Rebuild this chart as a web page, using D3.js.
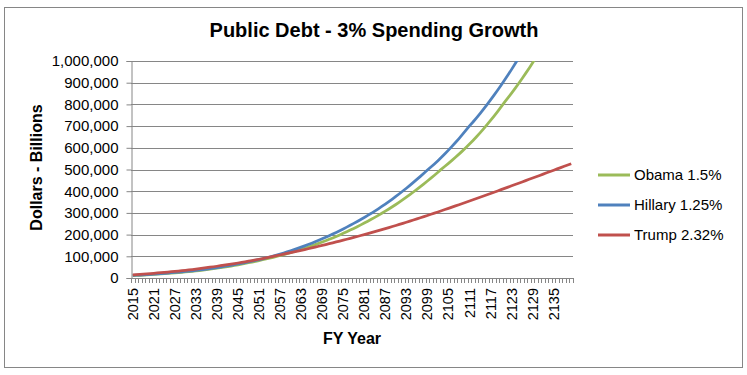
<!DOCTYPE html>
<html>
<head>
<meta charset="utf-8">
<script src="https://cdn.jsdelivr.net/npm/d3@7"></script>
<style>
  body { margin: 0; background: #fff; }
  text { font-family: "Liberation Sans", Arial, sans-serif; fill: #000; }
</style>
</head>
<body>
<div id="chart"></div>
<script>
// Our canvas
const width = 747,
  height = 375,
  plotLeft = 131,
  plotRight = 573,
  plotTop = 61,
  plotBottom = 278

// Data
const years = d3.range(2015, 2141)
const yTicks = [0, 100000, 200000, 300000, 400000, 500000, 600000, 700000, 800000, 900000, 1000000]
const seriesNames = ['Obama 1.5%', 'Hillary 1.25%', 'Trump 2.32%']
const seriesColors = ['#9bbb59', '#4f81bd', '#c0504d']

const obama = [11000,11800,12600,13500,14400,15400,16400,17500,18600,19800,21000,22300,23600,25000,26400,27900,29400,31000,
  32700,34500,36400,38400,40500,42700,45000,47400,49900,52500,55200,58000,60900,63900,67000,70200,73500,76900,80400,84000,
  87700,91500,95400,99500,103700,108000,112500,117100,121900,126800,131900,137100,142500,148000,153700,159600,165600,171800,178200,184800,191600,198600,
  205800,213200,220800,228600,236600,244800,253200,261800,270600,279600,288800,298200,
  307900,317900,328200,338800,349700,360900,372400,384200,396300,408700,
  421100,433800,446800,460100,473700,487600,501800,
  514800,528200,542000,556200,570800,585800,601300,617300,633900,651100,668900,687300,706300,725900,746100,766900,788300,810300,830900,852100,873900,896300,919300,942900,967100,991900,
  1017300,1043300,1069900,1097100,1124900,1153300,1182300,1211900,1242100,1272900,1304300]

const hillary = [12000,12900,13800,14800,15800,16900,18000,19200,20400,21600,22900,24200,25600,27000,28500,30000,31600,33300,
  35100,37000,39000,41100,43300,45600,48000,50500,53100,55800,58600,61500,64500,67600,70800,74100,77500,81000,84600,88300,
  92500,96800,101200,105800,110500,115400,120400,125600,131000,136500,142200,148100,154200,160500,167000,173700,180600,187700,195000,202500,
  210200,218100,226200,234500,243000,251700,260600,269700,279000,288500,298200,
  308400,318900,329700,340800,352200,363900,375900,388200,400800,
  413800,427000,440500,454300,468400,482800,497500,
  511300,525700,540700,556300,572400,589100,606400,624200,642600,661600,681100,701200,718900,738100,757900,778300,799200,820700,842700,865300,888500,912200,936500,961400,986900,
  1013000,1039700,1067000,1095000,1123700,1153000,1183000,1213700,1245000,1277000,1309700,1343000,1377000,1411800,1447300,1483500]

const trump = [14000,15200,16400,17700,19000,20300,21700,23100,24500,26000,27500,29000,30600,32200,33800,35500,37200,39000,
  41000,43100,45200,47400,49600,51900,54200,56600,59000,61500,64000,66600,69200,71900,74700,77500,80400,83400,86500,89600,
  92800,96000,99300,102700,106100,109600,113100,116600,120200,123800,127400,131100,
  134800,138600,142400,146300,150200,154100,158100,162100,166200,170300,174400,178600,182800,187100,191400,195700,200100,204500,
  209000,213500,218100,222800,227500,232300,237100,242000,246900,251900,256900,262000,267100,272300,277500,282800,288100,293500,298900,304400,
  309900,315400,321000,326600,332200,337800,343500,349200,354900,360600,366400,372200,378000,383800,389600,395400,401200,407100,413000,418900,424800,430700,
  436700,442700,448700,454700,460700,466700,472700,478700,484700,490700,496700,502700,508700,514700,520700,526700]

const series = [obama, hillary, trump]

// Drawing area
let svg = d3.select('#chart')
  .append('svg')
  .attr('width', width)
  .attr('height', height)

// frame
svg.append('rect')
  .attr('x', 4.5).attr('y', 7.5)
  .attr('width', 738).attr('height', 360)
  .attr('fill', '#fff')
  .attr('stroke', '#868686')

// scales
const xScale = d3.scaleBand()
  .domain(years)
  .range([plotLeft, plotRight])
  .padding(0)

const yScale = d3.scaleLinear()
  .domain([0, 1000000])
  .range([plotBottom, plotTop])

// gridlines
svg.append('g')
  .selectAll('line')
  .data(yTicks.slice(1))
  .enter()
  .append('line')
  .attr('x1', plotLeft).attr('x2', plotRight)
  .attr('y1', d => Math.round(yScale(d)) + 0.5)
  .attr('y2', d => Math.round(yScale(d)) + 0.5)
  .attr('stroke', '#868686')

// y axis
const yAxis = svg.append('g')
  .attr('transform', `translate(${plotLeft + 0.5},0)`)
  .call(d3.axisLeft(yScale)
    .tickValues(yTicks)
    .tickSize(5)
    .tickPadding(8)
    .tickFormat(d3.format(',')))
yAxis.select('.domain').attr('stroke', '#868686')
yAxis.selectAll('.tick line').attr('stroke', '#868686')
yAxis.selectAll('.tick text')
  .style('font-size', '15px')
  .style('font-family', '"Liberation Sans", Arial, sans-serif')

// x axis: ticks between categories
const xAxis = svg.append('g')
xAxis.append('line')
  .attr('x1', plotLeft).attr('x2', plotRight)
  .attr('y1', plotBottom + 0.5).attr('y2', plotBottom + 0.5)
  .attr('stroke', '#868686')
xAxis.selectAll('line.tick')
  .data(years.concat([null]))
  .enter()
  .append('line')
  .attr('class', 'tick')
  .attr('x1', d => Math.round(d === null ? plotRight : xScale(d)) + 0.5)
  .attr('x2', d => Math.round(d === null ? plotRight : xScale(d)) + 0.5)
  .attr('y1', plotBottom)
  .attr('y2', plotBottom + 5)
  .attr('stroke', '#868686')

xAxis.selectAll('text')
  .data(years.filter((d, i) => i % 6 === 0))
  .enter()
  .append('text')
  .attr('transform', d => `translate(${xScale(d) + xScale.bandwidth() / 2 + 5},${plotBottom + 10}) rotate(-90)`)
  .attr('text-anchor', 'end')
  .style('font-size', '14.5px')
  .text(d => d)

// lines
svg.append('clipPath')
  .attr('id', 'plot')
  .append('rect')
  .attr('x', plotLeft).attr('y', plotTop)
  .attr('width', plotRight - plotLeft).attr('height', plotBottom - plotTop)

const line = d3.line()
  .x((d, i) => xScale(years[i]) + xScale.bandwidth() / 2)
  .y(d => yScale(d))

svg.append('g')
  .attr('clip-path', 'url(#plot)')
  .selectAll('path')
  .data(series)
  .enter()
  .append('path')
  .attr('d', line)
  .attr('fill', 'none')
  .attr('stroke', (d, i) => seriesColors[i])
  .attr('stroke-width', 2.75)
  .attr('stroke-linejoin', 'round')

// title
svg.append('text')
  .attr('x', 374).attr('y', 37)
  .attr('text-anchor', 'middle')
  .style('font-size', '20px')
  .style('font-weight', 'bold')
  .text('Public Debt - 3% Spending Growth')

// axis titles
svg.append('text')
  .attr('transform', `translate(42,${(plotTop + plotBottom) / 2 - 2}) rotate(-90)`)
  .attr('text-anchor', 'middle')
  .style('font-size', '16px')
  .style('font-weight', 'bold')
  .text('Dollars - Billions')

svg.append('text')
  .attr('x', (plotLeft + plotRight) / 2).attr('y', 344)
  .attr('text-anchor', 'middle')
  .style('font-size', '16px')
  .style('font-weight', 'bold')
  .text('FY Year')

// legend
let legend = svg.append('g')
  .selectAll('g')
  .data(seriesNames)
  .enter()
  .append('g')
  .attr('transform', (d, i) => `translate(598,${175 + i * 30})`)

legend.append('line')
  .attr('x1', 0).attr('x2', 32)
  .attr('stroke', (d, i) => seriesColors[i])
  .attr('stroke-width', 3)

legend.append('text')
  .attr('x', 36).attr('y', 5)
  .style('font-size', '15px')
  .text(d => d)
</script>
</body>
</html>
